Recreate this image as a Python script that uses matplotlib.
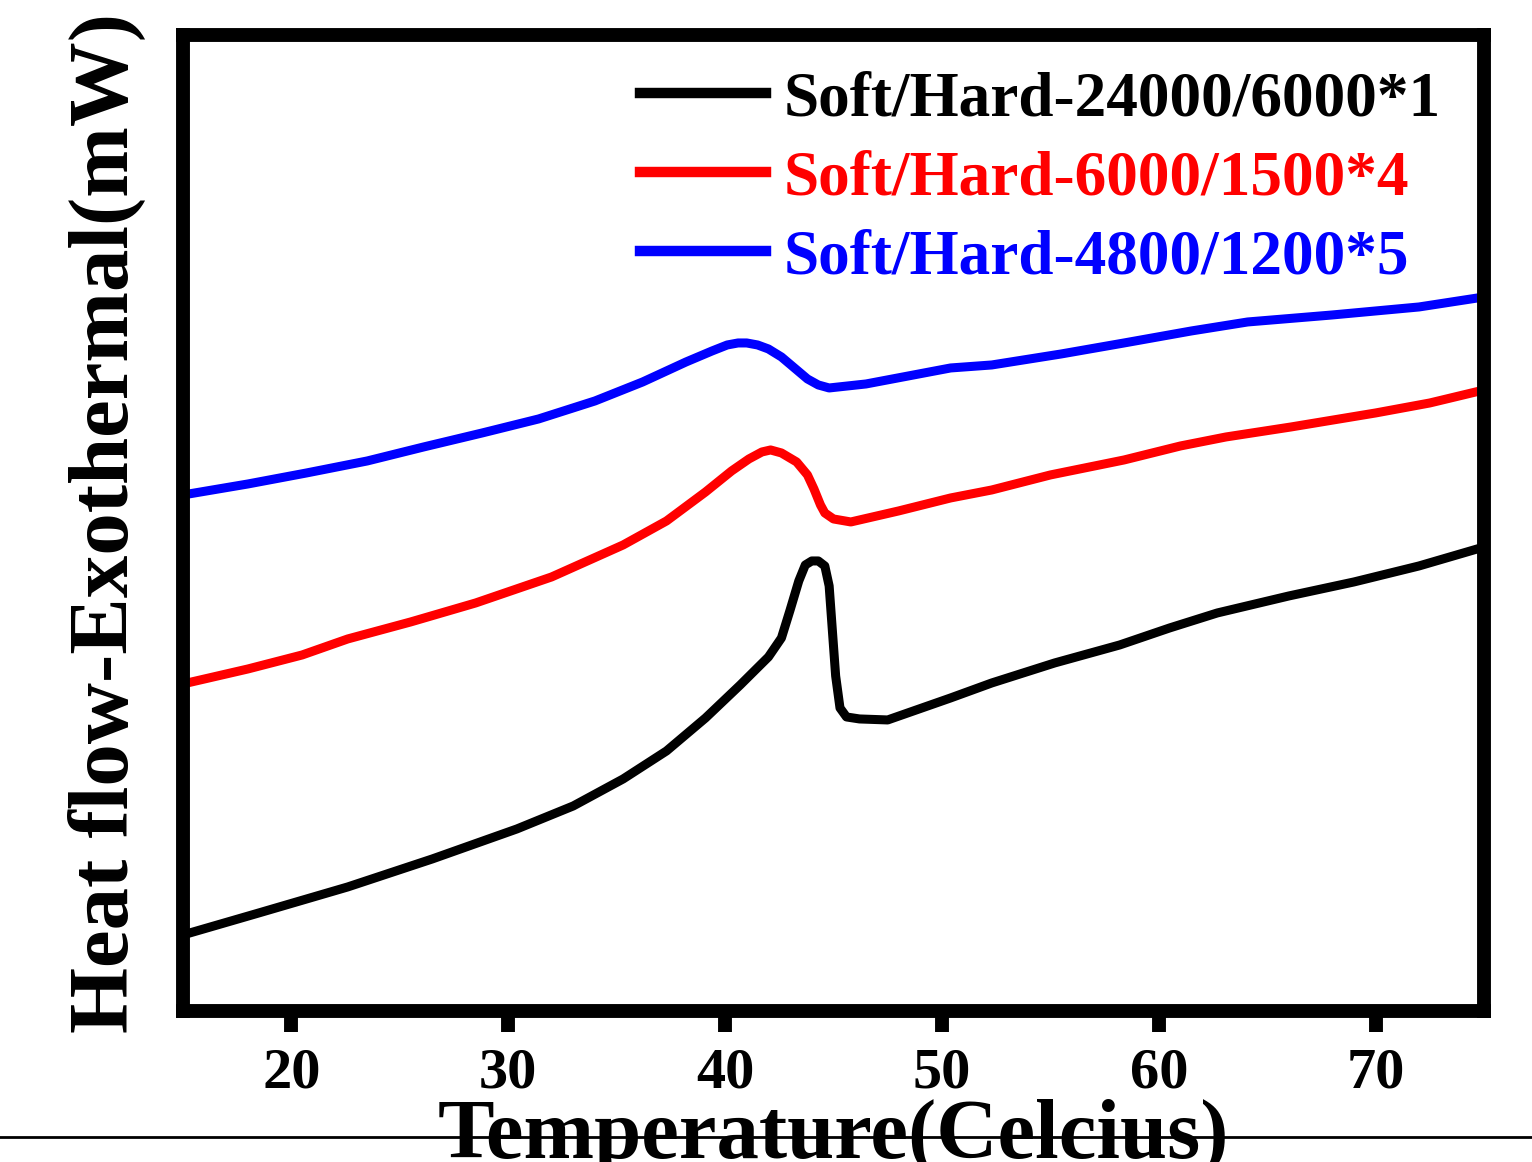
import numpy as np
import matplotlib
matplotlib.use("Agg")
import matplotlib.pyplot as plt
from matplotlib.lines import Line2D

plt.rcParams["font.family"] = ["Liberation Serif", "DejaVu Serif"]
plt.rcParams["font.weight"] = "bold"

# ── Data (y in arbitrary heat-flow units)
temp_black = [15.0, 18.5, 22.6, 26.5, 30.4, 33.0, 35.3, 37.3, 39.1, 40.7, 42.0,
              42.6, 43.0, 43.4, 43.7, 44.0, 44.3, 44.6, 44.8, 44.95, 45.1,
              45.3, 45.6, 46.2, 47.5, 50.4, 52.3, 55.2, 58.2, 60.5, 62.7,
              66.0, 69.0, 72.0, 75.0]
hf_black = [7.6, 9.8, 12.4, 15.2, 18.2, 20.5, 23.2, 26.0, 29.3, 32.6, 35.4,
            37.3, 40.1, 43.0, 44.6, 45.0, 45.0, 44.5, 42.5, 38.0, 33.5,
            30.3, 29.4, 29.2, 29.1, 31.3, 32.8, 34.8, 36.6, 38.3, 39.8,
            41.5, 42.9, 44.5, 46.4]

temp_red = [15.0, 18.0, 20.5, 22.6, 25.5, 28.5, 32.0, 35.3, 37.3, 39.1, 40.3,
            41.1, 41.7, 42.1, 42.6, 43.3, 43.8, 44.1, 44.4, 44.6, 45.0,
            45.8, 48.0, 50.4, 52.3, 55.0, 58.4, 61.0, 63.1, 66.1, 70.0,
            72.5, 75.0]
hf_red = [32.7, 34.2, 35.6, 37.2, 38.9, 40.8, 43.4, 46.6, 49.0, 51.9, 54.0,
          55.2, 55.9, 56.1, 55.8, 54.9, 53.6, 52.2, 50.6, 49.8, 49.2,
          48.9, 50.0, 51.3, 52.1, 53.6, 55.1, 56.5, 57.4, 58.4, 59.8,
          60.8, 62.1]

temp_blue = [15.0, 18.0, 20.7, 23.5, 26.1, 28.8, 31.4, 34.0, 36.2, 38.2, 39.4,
             40.1, 40.6, 41.0, 41.5, 42.0, 42.6, 43.2, 43.8, 44.3, 44.8,
             46.5, 50.4, 52.3, 55.5, 58.4, 61.5, 64.1, 68.0, 72.0, 75.0]
hf_blue = [51.6, 52.7, 53.8, 55.0, 56.4, 57.8, 59.2, 61.0, 62.9, 64.9, 66.0,
           66.6, 66.8, 66.8, 66.6, 66.2, 65.4, 64.3, 63.2, 62.6, 62.3,
           62.7, 64.3, 64.6, 65.7, 66.8, 68.0, 68.9, 69.6, 70.4, 71.4]

labels = ["Soft/Hard-24000/6000*1", "Soft/Hard-6000/1500*4", "Soft/Hard-4800/1200*5"]
colors = ["black", "#ff0000", "#0000ff"]
xticks = [20, 30, 40, 50, 60, 70]

fig = plt.figure(figsize=(15.32, 11.62), dpi=100)
ax = fig.add_axes([0.1194, 0.1300, 0.8493, 0.8399])

series = [(temp_black, hf_black), (temp_red, hf_red), (temp_blue, hf_blue)]
for (t, h), lab, c in zip(series, labels, colors):
    ax.plot(t, h, color=c, lw=6.5, label=lab, solid_joinstyle="round")

ax.set_xlim(15, 75)
ax.set_ylim(0, 97.6)
ax.set_xticks(xticks)
ax.set_yticks([])
ax.tick_params(axis="x", direction="out", length=15, width=10, pad=11,
               labelsize=42)
for sp in ax.spines.values():
    sp.set_linewidth(10)

ax.set_xlabel("Temperature(Celcius)", fontsize=61, fontweight="bold")
ax.xaxis.set_label_coords(0.5, -0.0905)
ax.xaxis.label.set_va("top")
ax.set_ylabel("Heat flow-Exothermal(mW)", fontsize=61, fontweight="bold")
ax.yaxis.set_label_coords(-0.028, 0.5)

leg = ax.legend(loc="upper left", bbox_to_anchor=(0.351, 0.963), frameon=False,
                fontsize=45.5, handlelength=2.0, handletextpad=0.28,
                labelspacing=0.33, borderpad=0, borderaxespad=0,
                labelcolor="linecolor")
for line in leg.get_lines():
    line.set_linewidth(7.5)

# thin rule across the bottom of the page
fig.add_artist(Line2D([0, 1], [0.0215, 0.0215], color="black", lw=2,
                      transform=fig.transFigure))

fig.savefig("out.png", dpi=100)
